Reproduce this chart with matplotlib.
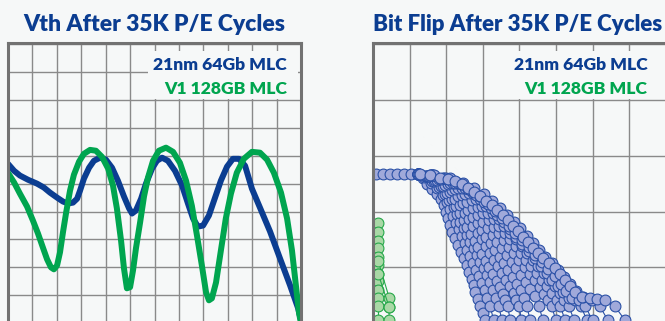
"""Vth / bit-flip comparison after 35K P/E cycles (two gridded panels)."""
import matplotlib

matplotlib.use("Agg")
import matplotlib.pyplot as plt
from matplotlib.patches import Rectangle

BG = "#f6f8f8"
GRID = "#8a8a8a"
FRAME = "#727272"
BLUE = "#0b3d91"
GREEN = "#00a54f"
DOT_BLUE, DOT_BLUE_EDGE = "#a0a9da", "#2a50a6"
DOT_GREEN, DOT_GREEN_EDGE = "#a9d8a6", "#26a84a"
DOT_MS = 7.8

W, H = 665, 321  # output size in px (dpi 100)

# ---- left panel: Vth distributions (x in grid columns, y in grid rows) ----
vth_21nm_x = [0.0, 0.25, 0.49, 0.82, 1.19, 1.47, 1.72, 2.01, 2.25, 2.46, 2.66,
              2.83, 2.95, 3.11, 3.32, 3.52, 3.77, 4.01, 4.26, 4.50, 4.75, 4.96,
              5.08, 5.24, 5.45, 5.65, 5.90, 6.10, 6.31, 6.55, 6.84, 7.13, 7.37,
              7.58, 7.78, 7.99, 8.23, 8.48, 8.72, 8.97, 9.21, 9.46, 9.71, 9.99,
              10.32, 10.73, 11.14, 11.55, 11.88, 12.0]
vth_21nm_y = [5.71, 5.46, 5.29, 5.14, 5.00, 4.86, 4.68, 4.50, 4.36, 4.29, 4.32,
              4.46, 4.75, 5.18, 5.57, 5.82, 5.93, 5.86, 5.57, 5.11, 4.54, 4.11,
              3.93, 4.04, 4.46, 5.00, 5.54, 5.82, 5.93, 5.82, 5.46, 4.93, 4.29,
              3.75, 3.46, 3.50, 3.86, 4.50, 5.11, 5.61, 5.89, 5.89, 5.64, 4.82,
              4.14, 3.29, 2.32, 1.36, 0.54, 0.10]

vth_v1_x = [0.0, 0.25, 0.49, 0.78, 1.02, 1.23, 1.43, 1.60, 1.76, 1.88, 2.01,
            2.13, 2.25, 2.38, 2.54, 2.70, 2.91, 3.11, 3.36, 3.60, 3.85, 4.10,
            4.30, 4.46, 4.63, 4.75, 4.87, 5.00, 5.12, 5.24, 5.41, 5.57, 5.73,
            5.94, 6.18, 6.47, 6.76, 7.04, 7.29, 7.53, 7.74, 7.94, 8.11, 8.23,
            8.35, 8.52, 8.72, 8.92, 9.13, 9.37, 9.66, 9.99, 10.32, 10.61, 10.89,
            11.18, 11.43, 11.63, 11.79, 11.92, 12.0]
vth_v1_y = [5.39, 5.04, 4.64, 4.18, 3.68, 3.21, 2.71, 2.29, 2.00, 1.93, 2.07,
            2.54, 3.25, 3.96, 4.75, 5.32, 5.79, 6.07, 6.21, 6.18, 5.96, 5.54,
            4.93, 4.11, 2.96, 1.96, 1.25, 1.29, 1.89, 2.68, 3.61, 4.54, 5.21,
            5.82, 6.18, 6.29, 6.14, 5.75, 5.11, 4.21, 3.14, 2.07, 1.11, 0.82,
            0.89, 1.46, 2.61, 3.75, 4.64, 5.39, 5.89, 6.14, 6.11, 5.86, 5.39,
            4.68, 3.75, 2.61, 1.36, 0.36, 0.0]

# ---- right panel: bit flips (x in grid columns, y in grid rows) ----
flip_21nm_start_x = [0.08, 0.27, 0.46, 0.66, 0.85, 1.04]
flip_21nm_start_y = [2.68, 2.68, 2.68, 2.68, 2.68, 2.68]

flip_21nm = [
    ([1.23, 1.36, 1.48, 1.62, 1.75, 1.86, 1.94, 2.00, 2.05, 2.10, 2.16, 2.24,
      2.32, 2.40, 2.49, 2.56, 2.62, 2.70, 2.76, 2.80, 2.86, 2.92, 3.00, 3.06],
     [2.68, 2.60, 2.50, 2.41, 2.32, 2.22, 2.12, 2.00, 1.88, 1.76, 1.64, 1.52,
      1.40, 1.28, 1.16, 1.04, 0.92, 0.80, 0.68, 0.55, 0.43, 0.30, 0.18, 0.05]),
    ([1.23, 1.40, 1.58, 1.75, 1.90, 2.02, 2.10, 2.18, 2.26, 2.34, 2.42, 2.50,
      2.58, 2.66, 2.74, 2.82, 2.90, 2.98, 3.06, 3.12, 3.20, 3.30],
     [2.68, 2.62, 2.52, 2.42, 2.30, 2.18, 2.05, 1.92, 1.80, 1.68, 1.56, 1.44,
      1.32, 1.20, 1.08, 0.96, 0.84, 0.72, 0.60, 0.45, 0.30, 0.05]),
    ([1.23, 1.42, 1.62, 1.80, 1.96, 2.09, 2.20, 2.30, 2.39, 2.48, 2.57, 2.66,
      2.75, 2.84, 2.93, 3.02, 3.11, 3.20, 3.28, 3.36, 3.44, 3.52],
     [2.68, 2.63, 2.54, 2.44, 2.32, 2.20, 2.08, 1.95, 1.82, 1.70, 1.58, 1.46,
      1.34, 1.22, 1.10, 0.98, 0.86, 0.74, 0.60, 0.45, 0.30, 0.05]),
    ([1.23, 1.45, 1.66, 1.86, 2.02, 2.16, 2.28, 2.38, 2.48, 2.58, 2.68, 2.78,
      2.88, 2.98, 3.08, 3.18, 3.28, 3.38, 3.48, 3.56, 3.62, 3.68, 3.75],
     [2.68, 2.63, 2.55, 2.45, 2.34, 2.22, 2.10, 1.97, 1.84, 1.72, 1.60, 1.48,
      1.36, 1.24, 1.12, 1.00, 0.88, 0.76, 0.64, 0.52, 0.42, 0.30, 0.05]),
    ([1.23, 1.48, 1.70, 1.92, 2.10, 2.25, 2.38, 2.50, 2.62, 2.74, 2.86, 2.97,
      3.08, 3.19, 3.30, 3.41, 3.52, 3.63, 3.74, 3.84, 3.92, 4.00, 4.05],
     [2.68, 2.64, 2.56, 2.46, 2.35, 2.23, 2.11, 1.98, 1.86, 1.74, 1.62, 1.50,
      1.38, 1.26, 1.14, 1.02, 0.90, 0.78, 0.66, 0.54, 0.42, 0.30, 0.05]),
    ([1.23, 1.50, 1.75, 1.97, 2.16, 2.32, 2.46, 2.60, 2.73, 2.86, 2.98, 3.10,
      3.22, 3.34, 3.46, 3.58, 3.70, 3.82, 3.94, 4.04, 4.12, 4.20, 4.30],
     [2.68, 2.64, 2.57, 2.48, 2.38, 2.27, 2.15, 2.03, 1.91, 1.79, 1.67, 1.55,
      1.43, 1.31, 1.19, 1.07, 0.95, 0.83, 0.71, 0.59, 0.45, 0.30, 0.05]),
    ([1.23, 1.52, 1.80, 2.04, 2.24, 2.42, 2.58, 2.73, 2.87, 3.01, 3.14, 3.27,
      3.40, 3.53, 3.66, 3.79, 3.92, 4.05, 4.18, 4.30, 4.42, 4.54, 4.64],
     [2.68, 2.64, 2.58, 2.50, 2.40, 2.29, 2.18, 2.06, 1.94, 1.82, 1.70, 1.58,
      1.46, 1.34, 1.22, 1.10, 0.98, 0.86, 0.74, 0.62, 0.48, 0.30, 0.05]),
    ([1.23, 1.55, 1.85, 2.10, 2.32, 2.52, 2.70, 2.86, 3.01, 3.16, 3.30, 3.44,
      3.58, 3.72, 3.86, 4.00, 4.14, 4.28, 4.42, 4.56, 4.68, 4.78, 4.88, 5.00],
     [2.68, 2.65, 2.59, 2.51, 2.42, 2.32, 2.21, 2.09, 1.97, 1.85, 1.73, 1.61,
      1.49, 1.37, 1.25, 1.13, 1.01, 0.89, 0.77, 0.65, 0.52, 0.42, 0.30, 0.05]),
    ([1.23, 1.58, 1.90, 2.18, 2.42, 2.62, 2.81, 2.98, 3.14, 3.30, 3.45, 3.60,
      3.75, 3.90, 4.04, 4.18, 4.32, 4.47, 4.62, 4.76, 4.90, 5.02, 5.12, 5.25],
     [2.68, 2.66, 2.60, 2.52, 2.43, 2.33, 2.22, 2.10, 1.98, 1.86, 1.74, 1.62,
      1.50, 1.38, 1.26, 1.14, 1.02, 0.90, 0.78, 0.66, 0.54, 0.42, 0.30, 0.05]),
    ([1.23, 1.60, 1.95, 2.25, 2.50, 2.72, 2.92, 3.10, 3.27, 3.43, 3.59, 3.75,
      3.91, 4.07, 4.22, 4.37, 4.52, 4.67, 4.82, 4.97, 5.10, 5.22, 5.35, 5.50],
     [2.68, 2.66, 2.60, 2.52, 2.43, 2.33, 2.22, 2.10, 1.98, 1.86, 1.74, 1.62,
      1.50, 1.38, 1.26, 1.14, 1.02, 0.90, 0.78, 0.66, 0.54, 0.42, 0.30, 0.05]),
    ([1.23, 1.62, 2.00, 2.32, 2.59, 2.82, 3.03, 3.22, 3.40, 3.57, 3.74, 3.91,
      4.08, 4.25, 4.42, 4.59, 4.75, 4.90, 5.05, 5.20, 5.36, 5.52, 5.68, 5.85],
     [2.68, 2.66, 2.60, 2.51, 2.41, 2.30, 2.18, 2.06, 1.94, 1.81, 1.68, 1.55,
      1.42, 1.29, 1.16, 1.03, 0.90, 0.78, 0.66, 0.55, 0.46, 0.42, 0.30, 0.05]),
    ([1.23, 1.65, 2.05, 2.40, 2.68, 2.92, 3.14, 3.34, 3.53, 3.71, 3.89, 4.07,
      4.25, 4.43, 4.61, 4.79, 4.97, 5.13, 5.28, 5.45, 5.62, 5.80, 6.00],
     [2.68, 2.65, 2.59, 2.50, 2.39, 2.27, 2.14, 2.01, 1.88, 1.75, 1.62, 1.49,
      1.36, 1.23, 1.10, 0.97, 0.84, 0.71, 0.58, 0.46, 0.42, 0.30, 0.05]),
    ([1.25, 1.68, 2.10, 2.46, 2.76, 3.02, 3.26, 3.47, 3.66, 3.84, 4.02, 4.20,
      4.37, 4.54, 4.71, 4.88, 5.05, 5.21, 5.37, 5.55, 5.75, 5.98, 6.20, 6.42],
     [2.68, 2.65, 2.60, 2.52, 2.42, 2.31, 2.19, 2.06, 1.94, 1.82, 1.70, 1.57,
      1.44, 1.31, 1.19, 1.07, 0.95, 0.83, 0.70, 0.58, 0.47, 0.42, 0.30, 0.05]),
    ([1.28, 1.55, 1.83, 2.04, 2.24, 2.42, 2.60, 2.76, 2.92, 3.08, 3.25, 3.40,
      3.55, 3.69, 3.83, 3.97, 4.10, 4.24, 4.37, 4.50, 4.64, 4.80, 4.97, 5.11,
      5.25, 5.38, 5.52, 5.72, 5.93, 6.13, 6.34, 6.61, 6.89],
     [2.68, 2.65, 2.61, 2.58, 2.54, 2.49, 2.43, 2.35, 2.27, 2.19, 2.11, 2.02,
      1.93, 1.84, 1.75, 1.65, 1.55, 1.45, 1.34, 1.25, 1.16, 1.07, 0.98, 0.88,
      0.77, 0.66, 0.55, 0.47, 0.45, 0.43, 0.41, 0.30, 0.05]),
]

flip_v1 = [
    ([0.14] * 12,
     [1.79, 1.64, 1.48, 1.34, 1.18, 1.04, 0.89, 0.75, 0.59, 0.46, 0.30, 0.05]),
    ([0.14, 0.44, 0.44, 0.44], [1.12, 0.46, 0.29, 0.05]),
    ([0.14, 0.44], [0.89, 0.29]),
]

LEGEND_1 = "21nm 64Gb MLC"
LEGEND_2 = "V1 128GB MLC"
TITLE_L = "Vth After 35K P/E Cycles"
TITLE_R = "Bit Flip After 35K P/E Cycles"
FONT = ["Lato", "DejaVu Sans"]


def px_axes(fig, left, top, width, height):
    """Axes placed by pixel box (top-left origin)."""
    return fig.add_axes([left / W, 1 - (top + height) / H, width / W, height / H])


def style_panel(ax, ncols, nrows_above, nrows_below, right_visible=True):
    ax.set_facecolor(BG)
    ax.set_xlim(0, ncols)
    ax.set_ylim(-nrows_below, nrows_above)
    ax.set_xticks(range(0, ncols + 1))
    ax.set_yticks(range(-nrows_below, int(nrows_above) + 1))
    ax.grid(True, color=GRID, lw=1.0)
    ax.set_axisbelow(True)
    ax.tick_params(length=0, labelbottom=False, labelleft=False)
    for side in ("left", "top", "right"):
        ax.spines[side].set_color(FRAME)
        ax.spines[side].set_linewidth(2.2)
        ax.spines[side].set_zorder(6)
    ax.spines["bottom"].set_visible(False)
    ax.spines["right"].set_visible(right_visible)


def legend_block(ax, x_right, box):
    """Blank out the grid under the legend and write the two entries."""
    ax.add_patch(Rectangle(box[:2], box[2], box[3], transform=ax.transData,
                           facecolor=BG, edgecolor="none", zorder=1))
    ax.text(x_right, box[1] + box[3] * 0.60, LEGEND_1, color=BLUE, ha="right",
            va="baseline", fontsize=12.6, fontweight="heavy", family=FONT, zorder=5)
    ax.text(x_right, box[1] + box[3] * 0.10, LEGEND_2, color=GREEN, ha="right",
            va="baseline", fontsize=12.6, fontweight="heavy", family=FONT, zorder=5)


fig = plt.figure(figsize=(W / 100, H / 100), dpi=100, facecolor=BG)

# left panel: 12 columns x 28 px rows, top edge at y=43
ax_l = px_axes(fig, 8, 43, 293, 28 * 12)
style_panel(ax_l, 12, 10.04, 2)
ax_l.plot(vth_21nm_x, vth_21nm_y, color=BLUE, lw=4.3, solid_capstyle="round",
          solid_joinstyle="round", zorder=3)
ax_l.plot(vth_v1_x, vth_v1_y, color=GREEN, lw=4.3, solid_capstyle="round",
          solid_joinstyle="round", zorder=4)
legend_block(ax_l, 11.42, (5.73, 8.04, 6.15, 1.72))

# right panel: 36.6 px columns x 56 px rows, runs off the right edge
ax_r = px_axes(fig, 373, 43, 36.6 * 10, 56 * 6)
style_panel(ax_r, 10, 5.02, 1, right_visible=False)
for xs, ys in flip_v1:
    ax_r.plot(xs, ys, color=DOT_GREEN_EDGE, lw=0.8, marker="o", ms=DOT_MS,
              mfc=DOT_GREEN, mec=DOT_GREEN_EDGE, mew=0.8, zorder=3)
ax_r.plot(flip_21nm_start_x, flip_21nm_start_y, color=DOT_BLUE_EDGE, lw=0.8,
          marker="o", ms=DOT_MS, mfc=DOT_BLUE, mec=DOT_BLUE_EDGE, mew=0.8,
          zorder=4)
for xs, ys in flip_21nm:
    ax_r.plot(list(xs) + [xs[-1]], list(ys) + [-0.6], color=DOT_BLUE_EDGE,
              lw=0.8, zorder=4)
    ax_r.plot(xs, ys, ls="none", marker="o", ms=DOT_MS, mfc=DOT_BLUE,
              mec=DOT_BLUE_EDGE, mew=0.8, zorder=4)
legend_block(ax_r, 7.49, (3.70, 4.02, 7.5, 0.86))

fig.text(154 / W, 1 - 31 / H, TITLE_L, ha="center", va="baseline", color=BLUE,
         fontsize=16.5, fontweight="heavy", family=FONT)
fig.text(373 / W, 1 - 31 / H, TITLE_R, ha="left", va="baseline", color=BLUE,
         fontsize=16.0, fontweight="heavy", family=FONT)

fig.savefig("out.png", dpi=100, facecolor=BG)
